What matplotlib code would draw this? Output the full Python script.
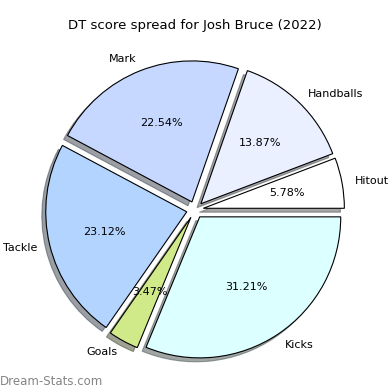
import matplotlib
matplotlib.use("Agg")
import matplotlib.pyplot as plt

labels = ["Hitout", "Handballs", "Mark", "Tackle", "Goals", "Kicks"]
counts = [10, 24, 39, 40, 6, 54]
colors = ["#ffffff", "#eaf0ff", "#c6d8ff", "#b3d4ff", "#d0ea8a", "#dcffff"]
explode = [0.06] * len(counts)

fig = plt.figure(figsize=(3.9, 3.9), dpi=100)
ax = fig.add_axes([0.0, 0.01, 1.0, 0.904])
ax.pie(counts, labels=labels, colors=colors, explode=explode, shadow=True,
       autopct="%1.2f%%", startangle=0, labeldistance=1.09,
       wedgeprops={"edgecolor": "black", "linewidth": 0.8},
       textprops={"fontsize": 8})
ax.set_aspect("equal")
fig.suptitle("DT score spread for Josh Bruce (2022)", fontsize=9.5, y=0.95)
fig.text(0.0, 0.013, "Dream-Stats.com", fontsize=8.5, color="#858585")
fig.savefig("out.png", dpi=100)
